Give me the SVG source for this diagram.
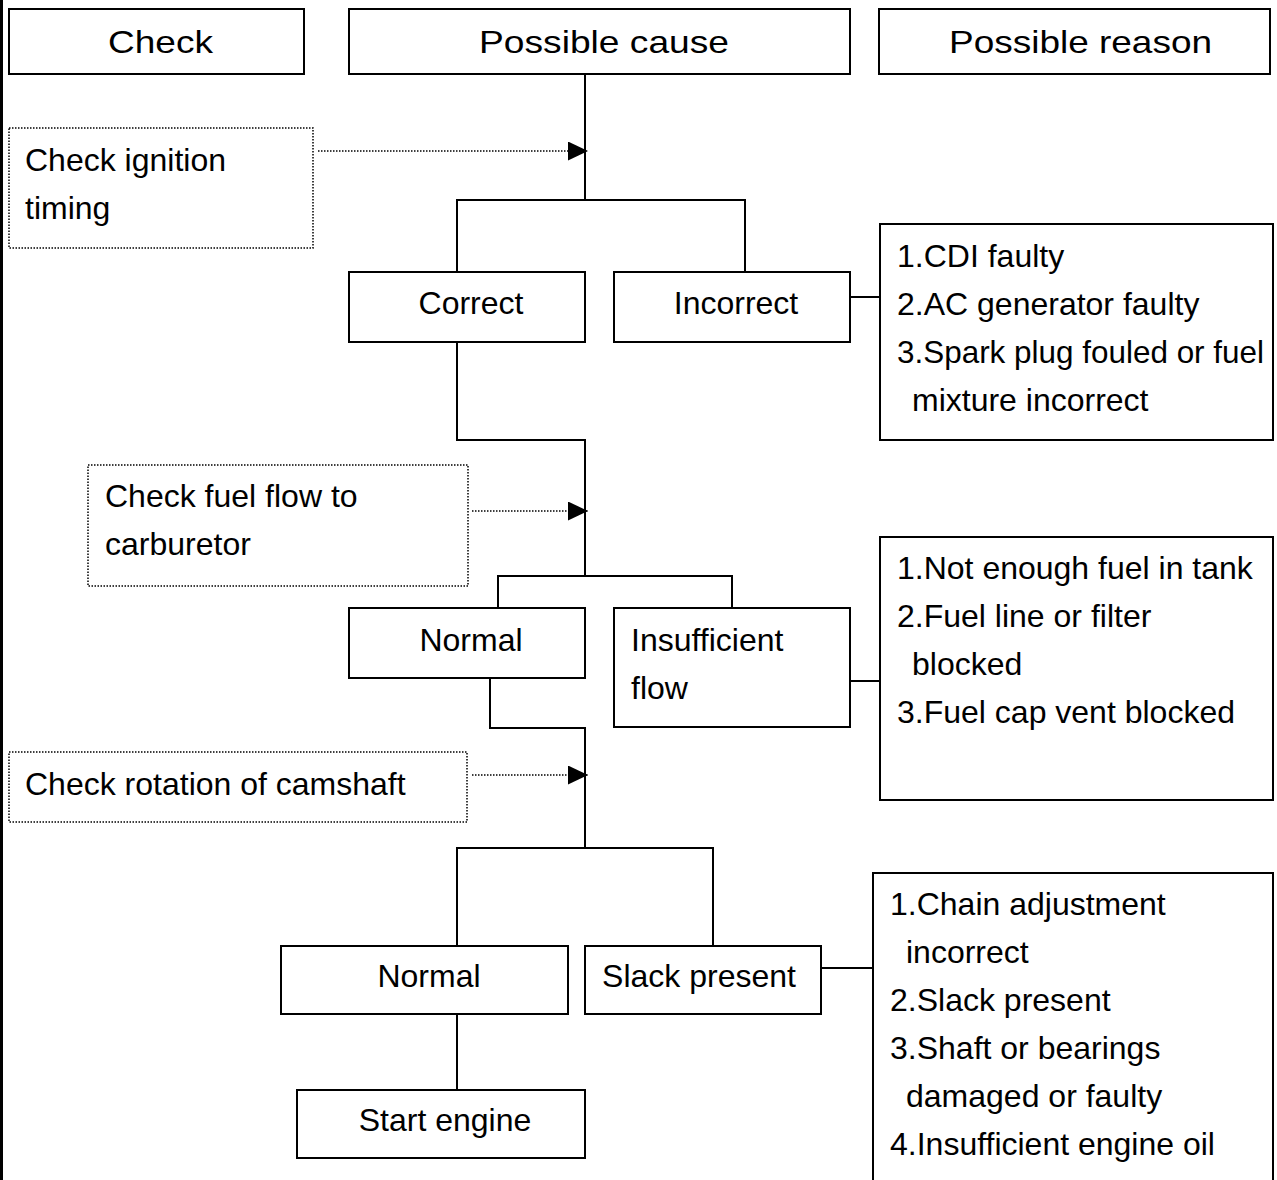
<svg xmlns="http://www.w3.org/2000/svg" width="1277" height="1180" viewBox="0 0 1277 1180">
  <style>
    .box { fill: #ffffff; stroke: #000000; stroke-width: 2; }
    .dot { fill: #ffffff; stroke: #000000; stroke-width: 1.5; stroke-dasharray: 1.5 1.5; }
    .wire { fill: none; stroke: #000000; stroke-width: 2; }
    .lead { fill: none; stroke: #000000; stroke-width: 1.5; stroke-dasharray: 1.5 1.5; }
    text { font-family: "Liberation Sans", Arial, sans-serif; font-size: 32px; fill: #000000; }
    .head { font-size: 32px; }
    .mid { text-anchor: middle; }
  </style>
  <defs>
    <marker id="arrow" viewBox="0 0 20 19" refX="20" refY="9.5" markerWidth="20" markerHeight="19" markerUnits="userSpaceOnUse" orient="auto">
      <path d="M0,0 L20,9.5 L0,19 Z" fill="#000000"/>
    </marker>
  </defs>

  <rect x="0" y="0" width="1277" height="1180" fill="#ffffff"/>
  <!-- page edge bar -->
  <rect x="0" y="0" width="3" height="1180" fill="#000000"/>

  <!-- column headings -->
  <g id="head-check">
    <rect class="box" x="9" y="9" width="295" height="65"/>
    <text class="head" x="108" y="53" textLength="105" lengthAdjust="spacingAndGlyphs">Check</text>
  </g>
  <g id="head-cause">
    <rect class="box" x="349" y="9" width="501" height="65"/>
    <text class="head" x="479" y="53" textLength="250" lengthAdjust="spacingAndGlyphs">Possible cause</text>
  </g>
  <g id="head-reason">
    <rect class="box" x="879" y="9" width="391" height="65"/>
    <text class="head" x="949" y="53" textLength="263" lengthAdjust="spacingAndGlyphs">Possible reason</text>
  </g>

  <!-- connectors -->
  <g id="connectors">
    <path class="wire" d="M585,74 V200 M457,272 V200 H745 V272"/>
    <path class="wire" d="M850,297 H880"/>
    <path class="wire" d="M457,342 V440 H585 V576 M498,608 V576 H732 V608"/>
    <path class="wire" d="M850,681 H880"/>
    <path class="wire" d="M490,678 V728 H585 V848 M457,946 V848 H713 V946"/>
    <path class="wire" d="M821,968 H873"/>
    <path class="wire" d="M457,1014 V1090"/>
    <path class="lead" d="M318,151 H588" marker-end="url(#arrow)"/>
    <path class="lead" d="M472,511 H588" marker-end="url(#arrow)"/>
    <path class="lead" d="M472,775 H588" marker-end="url(#arrow)"/>
  </g>

  <!-- checks -->
  <g id="check-ignition">
    <rect class="dot" x="9" y="128" width="304" height="120"/>
    <text x="25" y="171">Check ignition</text>
    <text x="25" y="219">timing</text>
  </g>
  <g id="check-fuel">
    <rect class="dot" x="88" y="465" width="380" height="121"/>
    <text x="105" y="507">Check fuel flow to</text>
    <text x="105" y="555">carburetor</text>
  </g>
  <g id="check-camshaft">
    <rect class="dot" x="9" y="752" width="458" height="70"/>
    <text x="25" y="795">Check rotation of camshaft</text>
  </g>

  <!-- causes -->
  <g id="timing-correct">
    <rect class="box" x="349" y="272" width="236" height="70"/>
    <text class="mid" x="471" y="314">Correct</text>
  </g>
  <g id="timing-incorrect">
    <rect class="box" x="614" y="272" width="236" height="70"/>
    <text class="mid" x="736" y="314">Incorrect</text>
  </g>
  <g id="fuel-normal">
    <rect class="box" x="349" y="608" width="236" height="70"/>
    <text class="mid" x="471" y="651">Normal</text>
  </g>
  <g id="fuel-insufficient">
    <rect class="box" x="614" y="608" width="236" height="119"/>
    <text x="631" y="651">Insufficient</text>
    <text x="631" y="699">flow</text>
  </g>
  <g id="cam-normal">
    <rect class="box" x="281" y="946" width="287" height="68"/>
    <text class="mid" x="429" y="987">Normal</text>
  </g>
  <g id="cam-slack">
    <rect class="box" x="585" y="946" width="236" height="68"/>
    <text class="mid" x="699" y="987">Slack present</text>
  </g>
  <g id="start-engine">
    <rect class="box" x="297" y="1090" width="288" height="68"/>
    <text class="mid" x="445" y="1131">Start engine</text>
  </g>

  <!-- reasons -->
  <g id="reason-ignition">
    <rect class="box" x="880" y="224" width="393" height="216"/>
    <text x="897" y="267">1.CDI faulty</text>
    <text x="897" y="315">2.AC generator faulty</text>
    <text x="897" y="363" textLength="367" lengthAdjust="spacingAndGlyphs">3.Spark plug fouled or fuel</text>
    <text x="912" y="411">mixture incorrect</text>
  </g>
  <g id="reason-fuel">
    <rect class="box" x="880" y="537" width="393" height="263"/>
    <text x="897" y="579">1.Not enough fuel in tank</text>
    <text x="897" y="627">2.Fuel line or filter</text>
    <text x="912" y="675">blocked</text>
    <text x="897" y="723">3.Fuel cap vent blocked</text>
  </g>
  <g id="reason-camshaft">
    <rect class="box" x="873" y="873" width="400" height="320"/>
    <text x="890" y="915">1.Chain adjustment</text>
    <text x="906" y="963">incorrect</text>
    <text x="890" y="1011">2.Slack present</text>
    <text x="890" y="1059">3.Shaft or bearings</text>
    <text x="906" y="1107">damaged or faulty</text>
    <text x="890" y="1155">4.Insufficient engine oil</text>
  </g>
</svg>
